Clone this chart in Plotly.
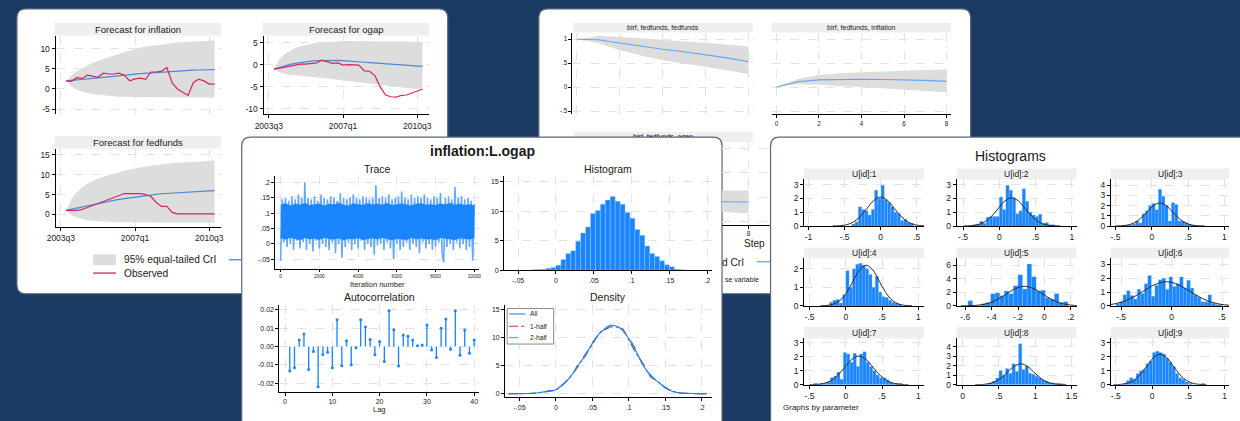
import plotly.graph_objects as go

W, H = 1240, 421
FONT = "Liberation Sans, Arial, Helvetica, sans-serif"
NAVY = "#1b3a63"
BLUE = "#1a85ff"
BLUE_LIGHT = "#62a8ff"
FC_BLUE = "#4d88d8"
IRF_BLUE = "#64a4f2"
CRIMSON = "#d6245e"
TEAL = "#2cc09a"
BAND = "#dddddd"
STRIP = "#efefef"
GRID = "#e3e3e3"
TXT = "#1a1a1a"
CARD_LINE = "#59677a"

# ---------------- data: card 1 (forecasts) ----------------
quarter_index = list(range(1, 30))
quarter_tickvals = [0, 14, 28]
quarter_ticktext = ["2003q3", "2007q1", "2010q3"]

infl_obs = [2.0, 1.9, 2.8, 2.6, 3.4, 3.1, 2.9, 3.9, 3.7, 3.7, 3.9, 3.4, 2.0, 2.5, 2.7,
            2.4, 4.2, 4.2, 4.4, 5.3, 1.5, 0.0, -0.7, -1.6, 1.6, 2.4, 2.0, 1.2, 1.2]
infl_mean = [2.0, 2.1, 2.2, 2.3, 2.4, 2.55, 2.7, 2.85, 3.0, 3.1, 3.25, 3.4, 3.5, 3.65, 3.8,
             3.9, 4.0, 4.1, 4.2, 4.3, 4.4, 4.5, 4.55, 4.6, 4.65, 4.7, 4.75, 4.75, 4.8]
infl_upper = [2.0, 3.3, 4.3, 5.1, 5.8, 6.4, 6.9, 7.4, 7.9, 8.3, 8.7, 9.1, 9.4, 9.9, 10.2,
              10.5, 10.7, 10.9, 11.05, 11.2, 11.35, 11.5, 11.6, 11.7, 11.8, 11.85, 11.9, 11.95, 12.0]
infl_lower = [2.0, 0.6, -0.2, -0.7, -1.0, -1.25, -1.45, -1.6, -1.75, -1.85, -1.95, -2.0, -2.05, -2.05, -2.1,
              -2.1, -2.1, -2.1, -2.1, -2.1, -2.1, -2.1, -2.15, -2.15, -2.15, -2.15, -2.15, -2.15, -2.15]

ogap_obs = [-1.0, -0.8, -0.6, -0.4, -0.2, 0.1, 0.1, 0.3, 0.4, 1.0, 0.6, 0.3, 0.4, -0.1, 0.0,
            0.0, -0.1, -1.4, -1.5, -2.5, -5.0, -6.9, -7.3, -7.4, -7.0, -6.9, -6.4, -6.0, -5.6]
ogap_mean = [-1.0, -0.6, -0.25, 0.05, 0.3, 0.5, 0.65, 0.8, 0.9, 0.95, 1.0, 1.0, 0.95, 0.9, 0.85,
             0.75, 0.65, 0.55, 0.45, 0.35, 0.25, 0.15, 0.05, -0.05, -0.1, -0.2, -0.25, -0.3, -0.4]
ogap_upper = [-1.0, 1.2, 2.4, 3.2, 3.8, 4.2, 4.5, 4.75, 4.95, 5.1, 5.2, 5.3, 5.35, 5.4, 5.4,
              5.4, 5.4, 5.4, 5.4, 5.4, 5.35, 5.35, 5.3, 5.3, 5.3, 5.25, 5.2, 5.2, 5.2]
ogap_lower = [-1.0, -1.7, -2.1, -2.3, -2.5, -2.6, -2.75, -2.85, -2.95, -3.05, -3.15, -3.25, -3.35, -3.5, -3.6,
              -3.75, -3.9, -4.05, -4.2, -4.35, -4.5, -4.65, -4.8, -4.95, -5.1, -5.25, -5.4, -5.55, -5.7]

ff_obs = [1.0, 1.0, 1.0, 1.25, 1.75, 2.25, 2.75, 3.25, 3.75, 4.25, 4.75, 5.25, 5.25, 5.25, 5.25,
          5.0, 4.5, 3.0, 2.0, 2.0, 0.5, 0.15, 0.15, 0.15, 0.15, 0.15, 0.15, 0.15, 0.15]
ff_mean = [1.0, 1.3, 1.6, 1.9, 2.2, 2.5, 2.8, 3.05, 3.3, 3.55, 3.8, 4.0, 4.2, 4.4, 4.6,
           4.75, 4.9, 5.05, 5.2, 5.3, 5.4, 5.5, 5.6, 5.7, 5.75, 5.8, 5.9, 5.95, 6.0]
ff_upper = [1.0, 3.8, 5.6, 6.8, 7.7, 8.4, 9.0, 9.5, 9.9, 10.3, 10.7, 11.0, 11.3, 11.6, 11.85,
            12.05, 12.25, 12.45, 12.6, 12.75, 12.9, 13.0, 13.1, 13.2, 13.3, 13.4, 13.5, 13.55, 13.6]
ff_lower = [1.0, -0.2, -0.8, -1.2, -1.45, -1.6, -1.7, -1.8, -1.85, -1.9, -1.95, -2.0, -2.0, -2.05, -2.05,
            -2.1, -2.1, -2.1, -2.1, -2.1, -2.1, -2.1, -2.1, -2.1, -2.1, -2.1, -2.1, -2.1, -2.1]

# ---------------- data: card 2 (IRFs) ----------------
irf_step = [0, 1, 2, 3, 4, 5, 6, 7, 8]
irf_ff_ff_mean = [1.0, 0.99, 0.92, 0.85, 0.79, 0.74, 0.68, 0.61, 0.53]
irf_ff_ff_upper = [1.0, 1.07, 1.05, 1.02, 0.99, 0.96, 0.92, 0.89, 0.85]
irf_ff_ff_lower = [1.0, 0.92, 0.77, 0.66, 0.56, 0.49, 0.42, 0.35, 0.27]
irf_ff_inf_mean = [0.0, 0.11, 0.15, 0.16, 0.165, 0.16, 0.155, 0.14, 0.12]
irf_ff_inf_upper = [0.0, 0.17, 0.25, 0.29, 0.31, 0.33, 0.34, 0.355, 0.37]
irf_ff_inf_lower = [0.0, 0.06, 0.05, 0.02, 0.0, -0.02, -0.05, -0.08, -0.11]
irf_ff_ogap_mean = [0.0, -0.02, -0.04, -0.06, -0.07, -0.08, -0.09, -0.095, -0.1]
irf_ff_ogap_upper = [0.0, 0.05, 0.09, 0.11, 0.12, 0.13, 0.135, 0.14, 0.14]
irf_ff_ogap_lower = [0.0, -0.08, -0.15, -0.2, -0.24, -0.27, -0.3, -0.31, -0.33]

# ---------------- data: card 3 (diagnostics) ----------------
trace_core_iter = list(range(0, 10001, 250))
trace_core_hi = [0.128, 0.132, 0.125, 0.13, 0.127, 0.133, 0.126, 0.129, 0.131, 0.124, 0.13, 0.128, 0.134, 0.127,
                 0.125, 0.131, 0.129, 0.126, 0.132, 0.128, 0.13, 0.127, 0.133, 0.126, 0.129, 0.131, 0.128,
                 0.125, 0.13, 0.132, 0.127, 0.129, 0.126, 0.131, 0.128, 0.133, 0.127, 0.13, 0.126, 0.129, 0.125]
trace_core_lo = [0.018, 0.014, 0.02, 0.016, 0.012, 0.019, 0.015, 0.017, 0.013, 0.02, 0.016, 0.014, 0.018, 0.012,
                 0.017, 0.015, 0.019, 0.013, 0.016, 0.018, 0.014, 0.02, 0.015, 0.012, 0.017, 0.016, 0.013,
                 0.019, 0.015, 0.018, 0.014, 0.016, 0.012, 0.019, 0.017, 0.015, 0.013, 0.018, 0.016, 0.014, 0.02]
trace_vals = [
    -0.055, 0.145, 0.005, 0.15, -0.01, 0.14, 0.0, 0.155, -0.02, 0.145,
    0.01, 0.16, -0.015, 0.15, 0.005, 0.2, -0.02, 0.15, 0.0, 0.145,
    -0.025, 0.155, 0.01, 0.14, -0.015, 0.16, 0.0, 0.15, -0.01, 0.145,
    -0.02, 0.155, 0.005, 0.15, -0.03, 0.14, 0.0, 0.165, -0.045, 0.15,
    -0.01, 0.145, 0.005, 0.15, -0.02, 0.16, 0.0, 0.15, -0.015, 0.145,
    0.01, 0.155, -0.02, 0.15, 0.0, 0.145, -0.01, 0.15, -0.035, 0.19,
    -0.005, 0.15, 0.0, 0.155, -0.02, 0.15, 0.005, 0.16, -0.015, 0.145,
    -0.05, 0.15, 0.0, 0.155, -0.02, 0.17, -0.01, 0.15, 0.005, 0.145,
    -0.02, 0.16, 0.0, 0.15, -0.01, 0.155, -0.03, 0.15, 0.005, 0.16,
    -0.015, 0.15, 0.0, 0.145, -0.02, 0.155, -0.01, 0.15, 0.005, 0.165,
    -0.025, -0.06, 0.15, -0.01, 0.155, 0.0, 0.145, -0.02, 0.185, 0.005,
    0.15, -0.015, 0.155, 0.0, 0.145, -0.02, 0.15, -0.01, 0.14, -0.055,
    0.13]
trace_iter = [round(i * 10000 / 120) for i in range(121)]

post_hist_start = -0.0326
post_hist_width = 0.00652
post_hist_heights = [0.05, 0.1, 0.15, 0.3, 0.45, 0.84, 1.8, 2.8, 3.3, 4.9, 6.3, 7.3, 9.6, 10.1, 11.2, 11.9,
                     12.5, 11.7, 11.2, 9.8, 8.8, 6.9, 5.9, 4.1, 2.8, 2.3, 1.6, 0.9, 0.55, 0.15, 0.05]

ac_lags = list(range(1, 41))
ac_vals = [-0.0133, -0.0115, 0.0036, 0.0068, -0.0124, -0.0027, -0.0218, -0.0043, -0.0031, -0.0115,
           0.0146, -0.0104, 0.0032, -0.0099, -0.0007, 0.0146, 0.0106, 0.0038, -0.0045, 0.0027,
           -0.0081, 0.0195, 0.0092, -0.0106, 0.0063, 0.0056, 0.0036, 0.0005, 0.0009, 0.0117,
           -0.0018, -0.0059, 0.0099, 0.015, -0.0014, 0.0195, -0.0047, 0.009, -0.0036, 0.0036]

dens_x = [-0.065, -0.05, -0.04, -0.03, -0.02, -0.01, 0.0, 0.01, 0.02, 0.03, 0.04, 0.05, 0.06, 0.07, 0.075,
          0.08, 0.09, 0.1, 0.11, 0.12, 0.13, 0.14, 0.15, 0.16, 0.17, 0.18, 0.19, 0.2, 0.207]
dens_all = [0.0, 0.0, 0.02, 0.08, 0.25, 0.45, 0.7, 1.7, 3.0, 5.0, 6.8, 9.0, 10.8, 11.8, 12.1,
            12.2, 11.6, 9.8, 7.6, 5.0, 3.2, 2.1, 1.1, 0.4, 0.12, 0.04, 0.01, 0.0, 0.0]
dens_half1 = [0.0, 0.0, 0.03, 0.07, 0.22, 0.5, 0.75, 1.6, 3.1, 4.8, 7.0, 8.8, 10.9, 11.6, 12.0,
              11.9, 11.8, 9.6, 7.2, 5.3, 3.0, 2.2, 1.0, 0.45, 0.1, 0.05, 0.01, 0.0, 0.0]
dens_half2 = [0.0, 0.0, 0.01, 0.09, 0.27, 0.4, 0.65, 1.8, 2.9, 5.2, 6.6, 9.2, 10.7, 12.0, 12.3,
              12.5, 11.4, 10.0, 7.9, 4.8, 3.4, 2.0, 1.2, 0.35, 0.14, 0.03, 0.01, 0.0, 0.0]

# ---------------- data: card 4 (U[id] histograms) ----------------
u_names = ["U[id]:1", "U[id]:2", "U[id]:3", "U[id]:4", "U[id]:5", "U[id]:6", "U[id]:7", "U[id]:8", "U[id]:9"]
u_bin_start = [-0.40, -0.36, -0.405, -0.225, -0.58, -0.55, -0.44, 0.32, -0.40]
u_bin_width = [0.045, 0.045, 0.045, 0.045, 0.0345, 0.035, 0.045, 0.045, 0.045]
u_heights = [
    [0.15, 0.3, 1.4, 1.2, 1.1, 0.8, 1.2, 2.6, 2.0, 2.95, 1.9, 1.7, 1.4, 1.0, 0.9, 0.4, 0.5, 0.25, 0.2],
    [0.1, 0.15, 0.35, 0.2, 0.65, 0.7, 0.7, 0.7, 2.1, 1.2, 2.95, 2.6, 2.05, 0.9, 1.1, 2.7, 1.8, 1.0, 0.8,
     0.7, 0.85, 0.2, 0.25, 0.1, 0.1],
    [0.1, 0.1, 0.1, 0.2, 0.5, 0.3, 1.2, 1.5, 2.0, 2.2, 1.6, 3.6, 2.9, 2.0, 0.5, 2.3, 2.1, 0.5, 0.5, 0.35,
     0.2, 0.1],
    [0.2, 0.3, 0.35, 0.15, 0.6, 1.9, 1.0, 2.0, 2.25, 2.3, 2.2, 2.0, 1.7, 1.0, 1.6, 0.75, 0.5, 0.45, 0.3,
     0.2, 0.15, 0.1],
    [0.75, 0.0, 0.0, 0.3, 0.5, 1.8, 1.9, 1.5, 2.2, 1.8, 3.0, 4.6, 2.5, 6.2, 4.3, 2.2, 2.3, 1.2, 1.0, 1.8,
     0.5, 0.6],
    [0.15, 0.3, 0.8, 1.1, 0.75, 0.5, 1.2, 0.9, 1.6, 2.2, 0.7, 1.5, 1.9, 2.0, 1.2, 2.1, 1.4, 1.6, 2.1, 1.3,
     1.85, 1.3, 0.8, 0.6, 0.3, 0.3, 0.8, 0.2, 0.1, 0.1],
    [0.1, 0.05, 0.1, 0.1, 0.2, 0.5, 0.6, 0.9, 0.4, 2.3, 2.2, 1.6, 2.25, 1.3, 2.2, 2.35, 1.6, 1.3, 1.0,
     0.7, 0.5, 0.5, 0.35, 0.2, 0.1, 0.1, 0.1],
    [0.1, 0.2, 0.4, 0.7, 1.5, 1.0, 1.7, 1.2, 2.2, 1.4, 4.3, 1.6, 2.0, 1.2, 1.1, 0.9, 0.7, 0.5, 0.4, 0.2,
     0.2, 0.15, 0.15, 0.1],
    [0.1, 0.3, 0.5, 0.4, 0.8, 1.0, 1.1, 1.5, 1.7, 2.3, 2.4, 2.3, 2.2, 1.9, 1.6, 1.3, 0.8, 0.5, 0.4, 0.2,
     0.1, 0.0, 0.0, 0.0, 0.1],
]
u_norm_x = [
    [-0.665, -0.57, -0.475, -0.38, -0.285, -0.19, -0.095, 0.0, 0.095, 0.19, 0.285, 0.38, 0.475, 0.57, 0.665],
    [-0.495, -0.40, -0.305, -0.21, -0.115, -0.02, 0.075, 0.17, 0.265, 0.36, 0.455, 0.55, 0.645, 0.74, 0.835],
    [-0.51, -0.421, -0.333, -0.244, -0.156, -0.067, 0.021, 0.11, 0.199, 0.287, 0.376, 0.464, 0.553, 0.641, 0.73],
    [-0.35, -0.26, -0.17, -0.08, 0.01, 0.10, 0.19, 0.28, 0.37, 0.46, 0.55, 0.64, 0.73, 0.82, 0.91],
    [-0.632, -0.563, -0.494, -0.425, -0.356, -0.288, -0.219, -0.15, -0.081, -0.012, 0.056, 0.125, 0.194, 0.263, 0.332],
    [-0.855, -0.74, -0.625, -0.51, -0.395, -0.28, -0.165, -0.05, 0.065, 0.18, 0.295, 0.41, 0.525, 0.64, 0.755],
    [-0.503, -0.405, -0.308, -0.21, -0.113, -0.015, 0.082, 0.18, 0.278, 0.375, 0.473, 0.57, 0.668, 0.765, 0.863],
    [0.17, 0.26, 0.35, 0.44, 0.53, 0.62, 0.71, 0.8, 0.89, 0.98, 1.07, 1.16, 1.25, 1.34, 1.43],
    [-0.531, -0.439, -0.348, -0.256, -0.165, -0.073, 0.018, 0.11, 0.202, 0.293, 0.385, 0.476, 0.568, 0.659, 0.751],
]
u_norm_y = [
    [0.005, 0.023, 0.092, 0.284, 0.682, 1.274, 1.853, 2.10, 1.853, 1.274, 0.682, 0.284, 0.092, 0.023, 0.005],
    [0.0045, 0.023, 0.090, 0.277, 0.666, 1.243, 1.809, 2.05, 1.809, 1.243, 0.666, 0.277, 0.090, 0.023, 0.0045],
    [0.005, 0.025, 0.099, 0.304, 0.731, 1.365, 1.986, 2.25, 1.986, 1.365, 0.731, 0.304, 0.099, 0.025, 0.005],
    [0.005, 0.024, 0.097, 0.298, 0.714, 1.334, 1.942, 2.2, 1.942, 1.334, 0.714, 0.298, 0.097, 0.024, 0.005],
    [0.006, 0.032, 0.127, 0.392, 0.942, 1.759, 2.559, 2.9, 2.559, 1.759, 0.942, 0.392, 0.127, 0.032, 0.006],
    [0.004, 0.019, 0.077, 0.237, 0.568, 1.061, 1.544, 1.75, 1.544, 1.061, 0.568, 0.237, 0.077, 0.019, 0.004],
    [0.0045, 0.023, 0.090, 0.277, 0.666, 1.243, 1.809, 2.05, 1.809, 1.243, 0.666, 0.277, 0.090, 0.023, 0.0045],
    [0.005, 0.024, 0.097, 0.298, 0.714, 1.334, 1.942, 2.2, 1.942, 1.334, 0.714, 0.298, 0.097, 0.024, 0.005],
    [0.0048, 0.024, 0.096, 0.295, 0.708, 1.322, 1.924, 2.18, 1.924, 1.322, 0.708, 0.295, 0.096, 0.024, 0.0048],
]
u_xticks = [
    ([-1, -0.5, 0, 0.5], ["-1", "-.5", "0", ".5"]),
    ([-0.5, 0, 0.5, 1], ["-.5", "0", ".5", "1"]),
    ([-0.5, 0, 0.5, 1], ["-.5", "0", ".5", "1"]),
    ([-0.5, 0, 0.5, 1], ["-.5", "0", ".5", "1"]),
    ([-0.6, -0.4, -0.2, 0, 0.2], ["-.6", "-.4", "-.2", "0", ".2"]),
    ([-0.5, 0, 0.5], ["-.5", "0", ".5"]),
    ([-0.5, 0, 0.5, 1], ["-.5", "0", ".5", "1"]),
    ([0, 0.5, 1, 1.5], ["0", ".5", "1", "1.5"]),
    ([-0.5, 0, 0.5, 1], ["-.5", "0", ".5", "1"]),
]
u_yticks = [[0, 1, 2, 3], [0, 1, 2, 3], [0, 1, 2, 3, 4], [0, 1, 2], [0, 2, 4, 6], [0, 1, 2, 3],
            [0, 1, 2, 3], [0, 1, 2, 3, 4], [0, 1, 2, 3]]
u_xrange = [[-1.059, 0.601], [-0.587, 1.064], [-0.563, 1.064], [-0.573, 1.077], [-0.665, 0.244],
            [-0.60, 0.569], [-0.573, 1.077], [-0.082, 1.569], [-0.567, 1.06]]
u_yrange = [[0, 3.38], [0, 3.38], [0, 4.55], [0, 2.57], [0, 7.05], [0, 3.45], [0, 3.31], [0, 4.87], [0, 3.31]]


# ---------------- helpers ----------------
def X(p):
    return p / W


def Y(p):
    return 1 - p / H


fig = go.Figure()
lay = {}
shapes = []
anns = []
counter = [0]


def axes(box, xr, yr, xt=None, xtt=None, yt=None, ytt=None, xline=True, yline=True,
         xlab=True, ylab=True, xfs=8.5, yfs=8.5, grid=True, xticklen=3):
    counter[0] += 1
    n = counter[0]
    s = "" if n == 1 else str(n)
    x0, y0, x1, y1 = box
    common = dict(linecolor="#000", linewidth=1, tickcolor="#000", tickwidth=1,
                  gridcolor=GRID, griddash="dash", gridwidth=1, zeroline=False, fixedrange=True,
                  tickmode="array", showgrid=grid, layer="above traces")
    lay["xaxis" + s] = dict(common, domain=[X(x0), X(x1)], range=xr, anchor="y" + s, ticklen=xticklen,
                            showline=xline, ticks="outside" if xline else "",
                            showticklabels=xlab, tickvals=xt if xt is not None else [],
                            ticktext=xtt, tickfont=dict(size=xfs, color=TXT, family=FONT))
    lay["yaxis" + s] = dict(common, domain=[Y(y1), Y(y0)], range=yr, anchor="x" + s, ticklen=3,
                            showline=yline, ticks="outside" if yline else "",
                            showticklabels=ylab, tickvals=yt if yt is not None else [],
                            ticktext=ytt, tickfont=dict(size=yfs, color=TXT, family=FONT))
    return "x" + s, "y" + s


def ann(x, y, text, size, anchor="center", bold=False, color=TXT, yanchor="middle"):
    anns.append(dict(x=X(x), y=Y(y), xref="paper", yref="paper", text=("<b>%s</b>" % text) if bold else text,
                     showarrow=False, xanchor=anchor, yanchor=yanchor, borderpad=0,
                     font=dict(size=size, color=color, family=FONT)))


def rect(x0, y0, x1, y1, fill, line=None, lw=0, layer="below"):
    shapes.append(dict(type="rect", xref="paper", yref="paper", x0=X(x0), x1=X(x1), y0=Y(y1), y1=Y(y0),
                       fillcolor=fill, line=dict(color=line or fill, width=lw), layer=layer))


def hline(x0, x1, y, color, width=1.3, dash="solid", layer="below"):
    shapes.append(dict(type="line", xref="paper", yref="paper", x0=X(x0), x1=X(x1), y0=Y(y), y1=Y(y),
                       line=dict(color=color, width=width, dash=dash), layer=layer))


def card(x0, y0, x1, y1, r=9):
    pts = [("M", x0 + r, y0), ("L", x1 - r, y0), ("Q", x1, y0, x1, y0 + r), ("L", x1, y1 - r),
           ("Q", x1, y1, x1 - r, y1), ("L", x0 + r, y1), ("Q", x0, y1, x0, y1 - r), ("L", x0, y0 + r),
           ("Q", x0, y0, x0 + r, y0)]
    path = ""
    for p in pts:
        cmd = p[0]
        coords = p[1:]
        seg = []
        for i in range(0, len(coords), 2):
            seg.append("%.6f,%.6f" % (X(coords[i]), Y(coords[i + 1])))
        path += cmd + " ".join(seg) + " "
    shapes.append(dict(type="path", path=path + "Z", xref="paper", yref="paper", fillcolor="white",
                       line=dict(color=CARD_LINE, width=1.2), layer="below"))


def header(x0, y0, x1, y1, text, size):
    rect(x0, y0, x1, y1, STRIP)
    if text:
        ann((x0 + x1) / 2, (y0 + y1) / 2, text, size)


def band(xa, ya, xs, up, lo, color=BAND):
    fig.add_trace(go.Scatter(x=list(xs) + list(xs)[::-1], y=list(up) + list(lo)[::-1], fill="toself",
                             fillcolor=color, line=dict(width=0), mode="lines", xaxis=xa, yaxis=ya,
                             hoverinfo="skip"))


def line(xa, ya, xs, ys, color, width=1.2, dash="solid", shape="linear"):
    fig.add_trace(go.Scatter(x=xs, y=ys, mode="lines", line=dict(color=color, width=width, dash=dash, shape=shape),
                             xaxis=xa, yaxis=ya, hoverinfo="skip"))


# ================= CARD 1 =================
card(8, 8, 443, 297)
header(46, 22, 214, 35, "Forecast for inflation", 9.5)
header(256, 22, 424, 35, "Forecast for ogap", 9.5)
header(46, 137, 214, 150, "Forecast for fedfunds", 9.5)
qr = [-1.0, 30.2]

xa, ya = axes((47, 36, 214, 115), qr, [-6.3, 13.0], quarter_tickvals, quarter_ticktext,
              [-5, 0, 5, 10], ["-5", "0", "5", "10"], xline=False, xlab=False)
band(xa, ya, quarter_index, infl_upper, infl_lower)
line(xa, ya, quarter_index, infl_mean, FC_BLUE)
line(xa, ya, quarter_index, infl_obs, CRIMSON)

xa, ya = axes((257, 36, 424, 115), qr, [-11.3, 6.4], quarter_tickvals, quarter_ticktext,
              [-10, -5, 0, 5], ["-10", "-5", "0", "5"])
band(xa, ya, quarter_index, ogap_upper, ogap_lower)
line(xa, ya, quarter_index, ogap_mean, FC_BLUE)
line(xa, ya, quarter_index, ogap_obs, CRIMSON)

xa, ya = axes((47, 150, 214, 229), qr, [-3.1, 16.5], quarter_tickvals, quarter_ticktext,
              [0, 5, 10, 15], ["0", "5", "10", "15"])
band(xa, ya, quarter_index, ff_upper, ff_lower)
line(xa, ya, quarter_index, ff_mean, FC_BLUE)
line(xa, ya, quarter_index, ff_obs, CRIMSON)

rect(85, 257, 108, 268, BAND)
ann(115, 262.5, "95% equal-tailed CrI", 10.2, anchor="left")
hline(85, 108, 276, CRIMSON)
ann(115, 276, "Observed", 10.2, anchor="left")
hline(222, 236, 262.5, FC_BLUE)

# ================= CARD 2 =================
card(535, 8, 971, 297)
header(570, 22, 751, 32, "birf, fedfunds, fedfunds", 7)
header(770, 22, 951, 32, "birf, fedfunds, inflation", 7)
header(570, 133, 751, 143, "", 7)
irf_y = [-0.57, 1.14]
irf_yt = [-0.5, 0, 0.5, 1]
irf_ytt = ["-.5", "0", ".5", "1"]

xa, ya = axes((569, 32, 751, 115), [-0.2, 8.2], irf_y, [0, 2, 4, 6, 8], ["0", "2", "4", "6", "8"],
              irf_yt, irf_ytt, xline=False, xlab=False, yfs=6.3)
band(xa, ya, irf_step, irf_ff_ff_upper, irf_ff_ff_lower)
line(xa, ya, irf_step, irf_ff_ff_mean, IRF_BLUE, 1.1)

xa, ya = axes((770, 32, 951, 115), [-0.23, 8.2], irf_y, [0, 2, 4, 6, 8], ["0", "2", "4", "6", "8"],
              irf_yt, irf_ytt, yline=False, ylab=False, xfs=6.3)
band(xa, ya, irf_step, irf_ff_inf_upper, irf_ff_inf_lower)
line(xa, ya, irf_step, irf_ff_inf_mean, IRF_BLUE, 1.1)

# only the right-hand sliver of the third IRF panel is visible between cards 3 and 4
xa, ya = axes((720, 143, 768, 227), [6.77, 8.98], irf_y, [8], ["8"],
              irf_yt, irf_ytt, yline=False, ylab=False, xfs=6.3)
band(xa, ya, irf_step, irf_ff_ogap_upper, irf_ff_ogap_lower)
line(xa, ya, irf_step, irf_ff_ogap_mean, IRF_BLUE, 1.1)

# header text of the third IRF panel, mostly hidden under card 3 (clipped)
xa, ya = axes((570, 128, 751, 138), [570, 751], [-138, -128], grid=False, xline=False, yline=False,
              xlab=False, ylab=False)
fig.add_trace(go.Scatter(x=[660.5], y=[-138], mode="text", text=["birf, fedfunds, ogap"],
                         textposition="middle center", textfont=dict(size=7, color=TXT, family=FONT),
                         xaxis=xa, yaxis=ya, cliponaxis=True, hoverinfo="skip"))
ann(752.7, 245.5, "Step", 10)
ann(719.3, 265, "d CrI", 10.2, anchor="left")
ann(721.5, 282.5, "se variable", 7, anchor="left")
hline(755, 769, 264.5, IRF_BLUE)

# ================= CARD 3 =================
card(235, 138, 720, 440)
ann(478, 152, "inflation:L.ogap", 14, bold=True)
ann(372, 170, "Trace", 10.5)
ann(605, 170, "Histogram", 10.5)
ann(374, 300, "Autocorrelation", 10.5)
ann(605, 300, "Density", 10.5)
ann(372, 282, "Iteration number", 7.5, yanchor="top")
ann(374, 414, "Lag", 7.5)

xa, ya = axes((269, 178, 475, 271.7), [-270, 10260], [-0.081, 0.219], [0, 2000, 4000, 6000, 8000, 10000],
              ["0", "2000", "4000", "6000", "8000", "10000"],
              [-0.05, 0, 0.05, 0.1, 0.15, 0.2], ["-.05", "0", ".05", ".1", ".15", ".2"], xfs=4.8, yfs=7,
              xticklen=2)
line(xa, ya, trace_iter, trace_vals, BLUE_LIGHT, 1.6)
band(xa, ya, trace_core_iter, trace_core_hi, trace_core_lo, color=BLUE)

xa, ya = axes((500, 178, 710, 273), [-0.0685, 0.2064], [0, 15.9], [-0.05, 0, 0.05, 0.1, 0.15, 0.2],
              ["-.05", "0", ".05", ".1", ".15", ".2"], [0, 5, 10, 15], ["0", "5", "10", "15"], xfs=7, yfs=7)
fig.add_trace(go.Bar(x=[post_hist_start + post_hist_width * (i + 0.5) for i in range(len(post_hist_heights))],
                     y=post_hist_heights, width=post_hist_width,
                     marker=dict(color=BLUE, line=dict(color="#9ccaff", width=0.4)),
                     xaxis=xa, yaxis=ya, hoverinfo="skip"))

xa, ya = axes((273, 308, 475, 396.7), [-1.2, 41.1], [-0.0247, 0.0228], [0, 10, 20, 30, 40],
              ["0", "10", "20", "30", "40"],
              [-0.02, -0.01, 0, 0.01, 0.02], ["-0.02", "-0.01", "0.00", "0.01", "0.02"], xfs=7, yfs=7)
fig.add_trace(go.Bar(x=ac_lags, y=ac_vals, width=0.28, marker=dict(color=BLUE, line=dict(width=0)),
                     xaxis=xa, yaxis=ya, hoverinfo="skip"))
fig.add_trace(go.Scatter(x=ac_lags, y=ac_vals, mode="markers", marker=dict(color=BLUE, size=3),
                         xaxis=xa, yaxis=ya, hoverinfo="skip"))

xa, ya = axes((501, 308, 710, 402), [-0.0697, 0.2143], [-0.65, 15.94], [-0.05, 0, 0.05, 0.1, 0.15, 0.2],
              ["-.05", "0", ".05", ".1", ".15", ".2"], [0, 5, 10, 15], ["0", "5", "10", "15"], xfs=7, yfs=7)
line(xa, ya, dens_x, dens_half2, TEAL, 1.1, "dash", "spline")
line(xa, ya, dens_x, dens_half1, CRIMSON, 1.1, "dashdot", "spline")
line(xa, ya, dens_x, dens_all, BLUE, 1.1, "solid", "spline")
rect(503, 312, 550, 348, "white", line="#8a8a8a", lw=1, layer="above")
hline(505, 521, 317.5, BLUE, 1.1, layer="above")
hline(505, 521, 330, CRIMSON, 1.1, "dashdot", layer="above")
hline(505, 521, 341.5, TEAL, 1.1, "dash", layer="above")
ann(525, 317.5, "All", 6.7, anchor="left")
ann(525, 330, "1-half", 6.7, anchor="left")
ann(525, 341.5, "2-half", 6.7, anchor="left")

# ================= CARD 4 =================
card(769, 138, 1262, 440)
ann(1011, 157, "Histograms", 14)
col_x = [(803, 924), (957, 1078), (1112.7, 1232)]
row_y = [(170, 181, 228.3), (250, 261, 309.3), (330.7, 342.3, 389.3)]
for k in range(9):
    r, c = divmod(k, 3)
    x0, x1 = col_x[c]
    h0, h1, yb = row_y[r]
    header(x0, h0, x1, h1, u_names[k], 8.5)
    xa, ya = axes((x0, h1, x1, yb), u_xrange[k], u_yrange[k], u_xticks[k][0], u_xticks[k][1],
                  u_yticks[k], [str(v) for v in u_yticks[k]], xfs=8.5, yfs=8.5)
    st, wd, hs = u_bin_start[k], u_bin_width[k], u_heights[k]
    fig.add_trace(go.Bar(x=[st + wd * (i + 0.5) for i in range(len(hs))], y=hs, width=wd,
                         marker=dict(color=BLUE, line=dict(color="#8cc1ff", width=0.3)),
                         xaxis=xa, yaxis=ya, hoverinfo="skip"))
    line(xa, ya, u_norm_x[k], u_norm_y[k], "#2b2b2b", 1.0, "solid", "spline")
ann(781, 412, "Graphs by parameter", 8, anchor="left")

fig.update_layout(lay)
fig.update_layout(width=W, height=H, margin=dict(l=0, r=0, t=0, b=0), autosize=False,
                  paper_bgcolor=NAVY, plot_bgcolor="rgba(0,0,0,0)", showlegend=False,
                  shapes=shapes, annotations=anns, font=dict(family=FONT, color=TXT),
                  barmode="overlay", hovermode=False)

page_fix = (
    "var gd=document.getElementById('{plot_id}');"
    "var de=document.documentElement, b=document.body;"
    "de.style.margin='0';de.style.padding='0';de.style.overflow='hidden';"
    "b.style.margin='0';b.style.padding='0';b.style.overflow='hidden';"
    "if(gd){gd.style.position='absolute';gd.style.left='0px';gd.style.top='0px';}"
)
fig.write_html("out.html", include_plotlyjs=True, config={"displayModeBar": False, "staticPlot": True},
               post_script=page_fix)
